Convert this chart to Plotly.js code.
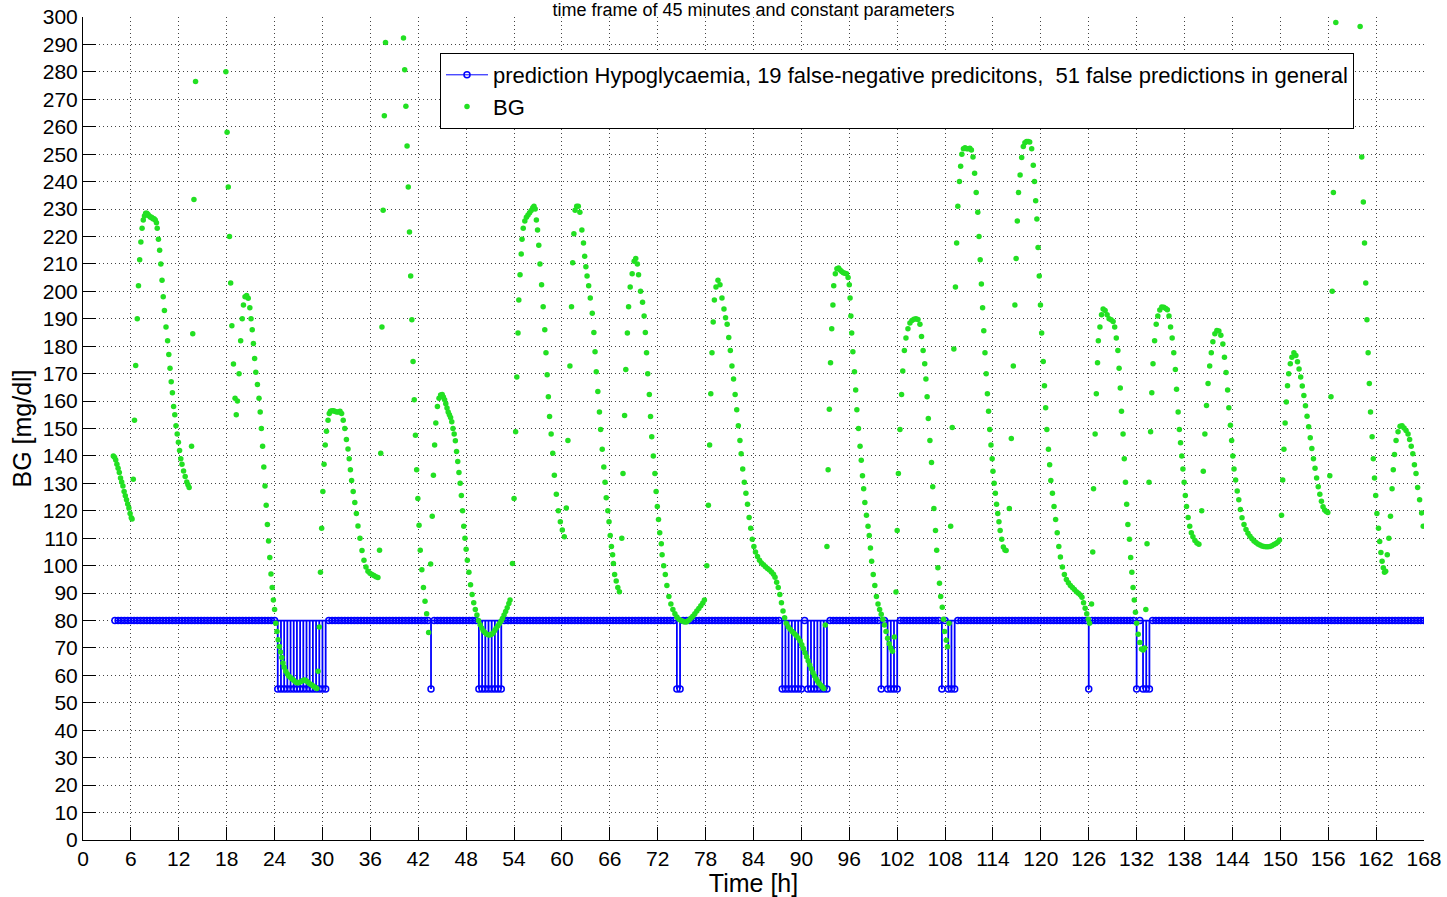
<!DOCTYPE html>
<html>
<head>
<meta charset="utf-8">
<script src="https://cdn.plot.ly/plotly-3.0.1.min.js"></script>
<style>html,body{margin:0;padding:0;background:#fff;}#chart{width:1447px;height:897px;}</style>
</head>
<body>
<div id="chart"></div>
<script>
// ---- prediction (stem plot, baseline 80, hypo value 55) ----
const predStartHour = 4;
const predStepHours = 0.4;
const predNormal = 80;
const predHypo = 55;
// run lengths of samples, alternating: normal, hypo, normal, hypo, ...
const predRuns = [51,16,32,1,14,8,54,2,31,7,1,7,16,1,1,4,13,1,1,3,41,1,14,1,1,3,86];

// ---- BG readings [hour, mg/dl] ----
const bgDay1 = [[3.8,140],[3.95,139.5],[4.1,138.5],[4.25,137],[4.4,135.5],[4.55,134],[4.7,132],[4.85,130.5],[5.0,129],[5.15,127],[5.3,125.5],[5.45,124],[5.6,122.5],[5.75,121],[5.9,119],[6.05,117.5],[6.15,117],
[6.3,131.5],[6.45,153],[6.6,173],[6.8,190],[6.95,202],[7.1,211.5],[7.25,218],[7.4,223],[7.55,226],[7.7,227.5],[7.85,228.5],[8.0,228.5],[8.15,228],[8.3,227.5],[8.45,227],[8.6,227],[8.75,226.5],[8.9,226.5],[9.05,226],[9.2,225],[9.3,223],[9.45,219],[9.6,215],[9.75,210],[9.9,204],[10.05,198],[10.2,193],[10.4,187],[10.6,182],[10.75,177],[10.9,172],[11.05,167],[11.2,163],[11.35,158],[11.5,155],[11.65,151],[11.8,148],[11.95,145],[12.1,142],[12.25,139],[12.4,137],[12.6,134.5],[12.8,132.5],[13.0,130.5],[13.15,129.5],[13.3,128.5],
[13.6,143.5],[13.75,184.5],[13.9,233.5],[14.1,276.5],
[17.9,280],[18.05,258],[18.2,238],[18.35,220],[18.5,203],[18.65,187.5],[18.85,173.5],[19.05,161],[19.2,155],[19.35,160],[19.55,170],[19.75,182],[19.95,190],[20.1,195],[20.3,198],[20.5,198.5],[20.7,197.5],[20.9,194],[21.05,190],[21.2,186],[21.35,181],[21.5,175.5],[21.65,170.5],[21.85,166],[22.05,161],[22.2,156],[22.35,150],[22.5,143.5],[22.65,136],[22.8,129],[22.95,122],[23.1,115],[23.25,109],[23.4,103],[23.55,97],[23.7,92],[23.85,87.5],[24.0,84]];
const bgDay2 = [[24.15,79],[24.3,76],[24.45,73],[24.6,70.5],[24.75,68.5],[24.9,66.5],[25.05,64.5],[25.2,63],[25.4,61.5],[25.6,60.5],[25.8,59.7],[26.0,59.2],[26.2,58.7],[26.4,58.2],[26.6,57.7],[26.8,57.3],[27.0,57.3],[27.2,57.6],[27.4,57.9],[27.6,58.2],[27.8,58.3],[28.0,58],[28.2,57.5],[28.4,57],[28.6,56.6],[28.8,56.2],[29.0,55.8],[29.15,55.5],[29.3,55.2],
[29.45,61.5],[29.6,77.6],[29.75,97.6],[29.9,113.6],[30.05,127],[30.2,137],[30.35,144],[30.5,149],[30.7,153],[30.85,155.5],[31.0,156.3],[31.2,156.5],[31.4,156.5],[31.6,156.2],[31.8,156],[32.0,156],[32.2,156.3],[32.4,155.5],[32.6,153],[32.8,150],[33.0,146],[33.2,142.5],[33.35,139],[33.5,135],[33.65,131],[33.85,127],[34.05,123],[34.25,119],[34.45,114.5],[34.7,110],[34.95,105.5],[35.2,102],[35.45,99.5],[35.7,98],[35.95,97.2],[36.2,96.8],[36.45,96.4],[36.7,96],[36.95,95.7],
[37.15,105.6],[37.3,141],[37.45,187],[37.6,229.6],[37.75,264],[37.9,290.7],
[40.15,292.3],[40.3,280.8],[40.45,267.5],[40.6,253],[40.75,238],[40.9,221.6],[41.05,205.6],[41.2,189.6],[41.35,174.4],[41.5,160.5],[41.65,147.5],[41.8,135],[41.95,124.5],[42.1,114.7],[42.25,105.6],[42.45,98.5],[42.65,92],[42.85,87],[43.05,82.5],[43.3,75.6],
[43.55,100.6],[43.75,118],[43.9,133],[44.05,144],[44.2,152],[44.4,158],[44.6,161],[44.8,162.2],[45.0,162.4],[45.15,161.5],[45.3,160.5],[45.45,159],[45.6,157.5],[45.75,156],[45.9,155],[46.05,154],[46.2,152.5],[46.35,150],[46.5,148],[46.65,145.5],[46.8,141.6],[46.95,138],[47.1,134],[47.25,130],[47.4,125.6],[47.55,120],[47.7,114.4],[47.85,110],[48.0,106]];
const bgDay3 = [[48.15,102],[48.35,97.6],[48.55,93],[48.75,89.5],[48.95,86.5],[49.15,84],[49.35,82],[49.55,80],[49.75,78.5],[49.95,77.3],[50.15,76.3],[50.35,75.6],[50.55,75.1],[50.75,74.8],[50.95,74.7],[51.15,74.9],[51.35,75.4],[51.55,76.3],[51.75,77.2],[51.95,78],[52.15,78.8],[52.35,79.7],[52.55,80.7],[52.75,82],[52.95,83.3],[53.15,84.7],[53.35,86.2],[53.5,87.5],
[53.8,100.8],[54.0,124.5],[54.2,148.8],[54.35,168.8],[54.5,184.8],[54.6,196.8],[54.75,206],[54.9,213.6],[55.0,219],[55.15,223],[55.35,225.6],[55.55,227],[55.75,227.8],[55.95,228.6],[56.15,229.5],[56.35,230.5],[56.5,231],[56.65,230],[56.8,226],[56.95,222.4],[57.1,216.8],[57.25,210],[57.45,202.4],[57.65,194.4],[57.85,186],[58.0,177.6],[58.15,169.6],[58.3,161.6],[58.45,154.4],[58.65,148],[58.85,141],[59.05,133],[59.3,126],[59.55,120],[59.8,116],[60.05,113],[60.3,110.5],
[60.55,121],[60.75,145.6],[61.0,172.8],[61.2,194.4],[61.35,210.4],[61.5,221],[61.65,229.6],[61.85,231],[62.05,231],[62.25,228.8],[62.5,222.4],[62.7,217.6],[62.85,212.8],[63.0,209],[63.15,205.6],[63.35,202],[63.55,197.6],[63.8,192],[64.0,185],[64.15,178],[64.3,170.7],[64.5,163.5],[64.7,156],[64.85,149.6],[65.05,142.4],[65.25,136],[65.4,130.4],[65.55,124.8],[65.75,120],[65.9,116],[66.05,111],[66.2,107],[66.35,104],[66.45,100.8],[66.6,96.8],[66.8,94.4],[67.0,92],[67.2,90.5],
[67.5,110],[67.65,133.6],[67.85,154.7],[68.0,171.5],[68.2,184.8],[68.35,194.4],[68.55,201.6],[68.8,206.4],[69.05,211],[69.25,212],[69.45,210],[69.6,206],[69.85,200],[70.1,196],[70.3,191],[70.45,185],[70.6,177.6],[70.75,170],[70.95,162.4],[71.1,154.4],[71.25,147],[71.45,140],[71.65,133.6],[71.8,127],[71.95,121.6]];
const bgDay4 = [[72.1,116.8],[72.25,112],[72.45,108],[72.55,104],[72.75,100],[72.95,96.8],[73.15,92.8],[73.4,88.8],[73.65,86],[73.9,84],[74.15,82.5],[74.4,81.3],[74.65,80.5],[74.9,80],[75.15,79.7],[75.4,79.5],[75.65,79.6],[75.9,80.1],[76.15,80.8],[76.4,81.6],[76.65,82.5],[76.9,83.5],[77.15,84.4],[77.4,85.4],[77.65,86.4],[77.85,87.5],
[78.15,100],[78.35,122],[78.5,144],[78.65,162.7],[78.8,177.6],[78.95,188.8],[79.1,196.8],[79.3,201.6],[79.55,204],[79.8,202.4],[80.05,197.6],[80.3,193.6],[80.5,190.4],[80.7,188],[80.9,183.2],[81.1,178.4],[81.3,172.8],[81.5,168],[81.7,162.4],[81.9,156.8],[82.1,151],[82.3,145.6],[82.45,140.8],[82.65,135.2],[82.85,130.4],[83.05,126.4],[83.25,122.4],[83.45,117.6],[83.65,113.6],[83.85,109.6],[84.05,107],[84.25,105],[84.5,103.3],[84.75,102],[85.0,101],[85.25,100.3],[85.5,99.6],[85.75,99],[86.0,98.4],[86.25,97.7],[86.5,96.9],[86.7,95.8],[86.9,94],[87.1,92],[87.3,89.5],[87.5,86.5],[87.7,83.5],[87.9,81],[88.1,79],[88.35,77.7],[88.6,76.8],[88.85,76],[89.1,75.3],[89.35,74.5],[89.6,73.6],[89.85,72.5],[90.05,71.2],[90.25,69.8],[90.45,68.3],[90.65,66.8],[90.85,65.3],[91.05,63.8],[91.25,62.4],[91.45,61],[91.65,59.8],[91.85,58.7],[92.05,57.8],[92.25,57],[92.45,56.3],[92.65,55.7],[92.8,55.2],
[93.0,78.4],[93.2,107],[93.35,135],[93.5,157],[93.65,174],[93.8,186.4],[93.95,195],[94.05,202],[94.25,206.4],[94.45,208.2],[94.65,208.5],[94.85,207.8],[95.05,207.2],[95.25,206.8],[95.45,206.6],[95.65,206.4],[95.85,205],[96.0,202.4]];
const bgDay5 = [[96.1,197.6],[96.2,191],[96.3,184.8],[96.45,178],[96.65,170.7],[96.8,164],[96.95,156.8],[97.15,150],[97.35,143.5],[97.5,138.4],[97.65,132.8],[97.8,128],[97.95,123],[98.15,118.4],[98.35,114.4],[98.5,111],[98.65,106.4],[98.8,101.6],[99.0,96.8],[99.2,92.8],[99.4,88.8],[99.6,86],[99.8,84],[100.0,82.3],[100.2,80.5],[100.4,78.4],[100.6,76],[100.8,73.5],[101.0,71.5],[101.2,70],[101.4,68.8],
[101.65,74],[101.85,90.4],[102.0,112.8],[102.15,133.6],[102.35,149.6],[102.55,162.4],[102.7,171],[102.9,178.4],[103.1,183],[103.35,186.4],[103.6,188.5],[103.85,189.4],[104.1,189.8],[104.35,190],[104.6,189.7],[104.85,188],[105.05,183.5],[105.25,178.4],[105.45,173.6],[105.6,168],[105.75,161.6],[105.9,153.6],[106.1,145.6],[106.3,137.6],[106.45,128.8],[106.6,120.8],[106.8,112.8],[106.95,105.6],[107.1,99.2],[107.3,93.6],[107.45,88.8],[107.65,84.8],[107.8,80.5],[107.95,76],[108.15,72.8],[108.3,70.4],
[108.5,79],[108.7,114.4],[108.9,150.4],[109.1,179],[109.3,201.6],[109.45,217.6],[109.6,231],[109.8,240],[109.95,245.6],[110.1,250],[110.3,252],[110.5,252.3],[110.7,252],[110.9,252],[111.1,252.2],[111.3,251.5],[111.5,249],[111.7,243],[111.9,236],[112.1,228.8],[112.25,220],[112.4,211.5],[112.55,202.7],[112.7,194],[112.85,185.6],[113.0,177.6],[113.15,170],[113.3,162.7],[113.45,156.3],[113.6,149.6],[113.75,144],[113.9,139],[114.0,134.4],[114.15,130],[114.3,126.4],[114.45,122.4],[114.6,119],[114.75,116],[114.9,112.8],[115.1,109.6],[115.3,106.8],[115.5,105.7],[115.65,105.5],
[116.05,120.8],[116.3,146.4],[116.55,172.8],[116.75,195],[116.9,212],[117.05,225.6],[117.2,236],[117.4,242.4],[117.6,248.8],[117.8,252.8],[118.0,254.2],[118.2,254.6],[118.4,254.6],[118.6,254.4],[118.85,252],[119.05,246],[119.2,240],[119.35,233],[119.5,226.4],[119.65,216],[119.8,205.6],[119.95,195]];
const bgDay6 = [[120.1,184.8],[120.3,174.4],[120.45,165.6],[120.6,157.6],[120.75,149.6],[120.95,142.4],[121.1,136.8],[121.25,131],[121.45,126.4],[121.65,121.6],[121.85,116.8],[122.05,112],[122.25,107],[122.45,103.2],[122.7,99.5],[122.95,96.8],[123.2,95],[123.45,93.8],[123.7,92.8],[123.95,92],[124.2,91.3],[124.45,90.5],[124.7,89.9],[124.95,89.3],[125.15,88.5],[125.35,86.5],[125.55,84.5],[125.75,82.5],[125.95,80.5],[126.1,79],
[126.35,86],[126.5,105],[126.6,128],[126.8,148],[126.95,162.7],[127.1,174],[127.2,182],[127.4,187],[127.6,191.5],[127.8,193.6],[128.05,193],[128.3,191.5],[128.55,190],[128.8,189.6],[129.05,189],[129.25,187],[129.45,183],[129.65,178.4],[129.8,172],[129.95,164.8],[130.1,156.3],[130.3,148],[130.45,139],[130.6,130.4],[130.75,122.4],[130.9,115],[131.1,109.6],[131.25,103],[131.4,97.6],[131.55,92],[131.7,87.5],[131.85,83],[132.0,79],[132.2,75],[132.4,72],[132.6,69.6],[132.8,69.3],[133.0,70],
[133.15,84],[133.3,108],[133.55,130.4],[133.75,148.8],[133.9,163],[134.05,173.6],[134.25,182],[134.45,188],[134.65,191],[134.9,193.2],[135.15,194.3],[135.4,194.2],[135.65,193.7],[135.85,193.3],[136.05,191],[136.25,187],[136.45,183],[136.65,177.6],[136.85,171.5],[137.0,164.3],[137.2,156],[137.35,149.6],[137.5,144.8],[137.65,140],[137.8,135.2],[137.95,130.4],[138.1,125.6],[138.25,121.6],[138.45,117.6],[138.65,114.4],[138.85,112],[139.05,110.5],[139.3,109.2],[139.55,108.3],[139.8,107.8],
[140.15,120],[140.35,134.4],[140.55,148],[140.75,158.4],[140.95,166.4],[141.15,172.8],[141.35,177.6],[141.55,181.6],[141.8,184.5],[142.05,185.7],[142.3,185.5],[142.55,184],[142.8,180.8],[143.0,176],[143.2,170.4],[143.4,164],[143.55,157.6],[143.75,151.2],[143.9,145.6]];
const bgDay7 = [[144.05,140],[144.2,135.2],[144.4,131.2],[144.6,127.2],[144.8,124],[145.0,120.5],[145.2,117.5],[145.45,115],[145.7,113.2],[145.95,111.8],[146.2,110.7],[146.45,109.8],[146.7,109],[146.95,108.4],[147.2,107.9],[147.45,107.5],[147.7,107.2],[147.95,107],[148.2,106.9],[148.45,106.9],[148.7,107],[148.95,107.3],[149.2,107.7],[149.45,108.1],[149.7,108.6],[149.9,109.4],
[150.15,118.4],[150.3,131.2],[150.45,142.4],[150.6,152],[150.75,159.7],[150.9,165.6],[151.05,170],[151.25,173.6],[151.45,176],[151.7,177.6],[151.95,176.6],[152.15,174.3],[152.35,171.7],[152.55,168.8],[152.75,165.5],[152.95,162],[153.15,158.3],[153.35,154.5],[153.55,150.6],[153.75,146.6],[153.95,142.7],[154.15,139],[154.35,135.5],[154.55,132],[154.75,128.8],[154.95,126],[155.15,123.5],[155.35,121.5],[155.55,120.3],[155.75,119.7],[155.95,119.4],
[156.2,132.8],[156.35,161.6],[156.5,200],[156.65,236],[156.8,262],[156.95,298],
[160.0,296.5],[160.2,249],[160.4,232.6],[160.55,217.6],[160.7,203],[160.85,189.6],[161.0,177.6],[161.15,166.4],[161.3,156],[161.5,147],[161.65,139],[161.8,132],[161.95,125.6],[162.1,119],[162.3,113.6],[162.45,108.8],[162.6,104.8],[162.75,101.6],[162.9,99.2],[163.05,97.6],[163.2,98],
[163.4,104],[163.6,110],[163.8,118],[164.0,128],[164.15,135],[164.3,140.5],[164.5,145.6],[164.75,148.8],[165.0,150.8],[165.25,151],[165.5,150.2],[165.75,149.3],[166.0,148],[166.2,146],[166.4,143.5],[166.6,140.8],[166.8,136.8],[167.0,133.6],[167.2,128.5],[167.45,124],[167.7,119.2],[167.9,114.4]];

const xTickStep = 6;
const yTickStep = 10;
const titleText = 'time frame of 45 minutes and constant parameters';
const predName = 'prediction Hypoglycaemia, 19 false-negative predicitons,\u00a0 51 false predictions in general';
const bgName = 'BG';

// ---- build series ----
const bgHours = [], bgValues = [];
[bgDay1, bgDay2, bgDay3, bgDay4, bgDay5, bgDay6, bgDay7].forEach(day =>
  day.forEach(p => { bgHours.push(p[0]); bgValues.push(p[1]); }));

const predHours = [], predValues = [];
let k = 0;
predRuns.forEach((n, i) => {
  for (let j = 0; j < n; j++) {
    predHours.push(+(predStartHour + k * predStepHours).toFixed(4));
    predValues.push(i % 2 === 0 ? predNormal : predHypo);
    k++;
  }
});

const stemX = [predHours[0], predHours[predHours.length - 1], null];
const stemY = [predNormal, predNormal, null];
predHours.forEach((t, i) => {
  if (predValues[i] !== predNormal) { stemX.push(t, t, null); stemY.push(predNormal, predValues[i], null); }
});
const circX = [], circY = [];
predHours.forEach((t, i) => { circX.push(t, null); circY.push(predValues[i], null); });

const blue = '#0000ff';
const green = '#22e022';
const fontFam = 'Liberation Sans, Arial, Helvetica, sans-serif';

const traces = [
  { x: stemX, y: stemY, mode: 'lines', line: { color: blue, width: 1.8 }, showlegend: false, hoverinfo: 'skip' },
  { x: circX, y: circY, mode: 'lines+markers', name: predName,
    line: { color: blue, width: 1 },
    marker: { symbol: 'circle-open', size: 6, color: blue, line: { width: 1.5, color: blue } } },
  { x: bgHours, y: bgValues, mode: 'markers', name: bgName,
    marker: { symbol: 'circle', size: 5.5, color: green } }
];

const axisCommon = {
  ticks: 'inside', ticklen: 13, tickwidth: 1, tickcolor: '#000',
  showline: true, linecolor: '#000', linewidth: 1, mirror: false,
  showgrid: true, gridcolor: '#444', gridwidth: 1, griddash: '1px,3px',
  zeroline: false, tickfont: { family: fontFam, size: 21, color: '#000' },
  automargin: false
};

const layout = {
  width: 1447, height: 897,
  margin: { l: 83, r: 23, t: 17, b: 57 },
  paper_bgcolor: '#fff', plot_bgcolor: '#fff',
  font: { family: fontFam, color: '#000' },
  title: { text: titleText, font: { family: fontFam, size: 18, color: '#000' },
           x: 0.5, xref: 'paper', y: 1, yref: 'container', yanchor: 'top', pad: { t: 3 } },
  xaxis: Object.assign({}, axisCommon, {
    range: [0, 168], tickmode: 'linear', tick0: 0, dtick: xTickStep,
    title: { text: 'Time [h]', font: { family: fontFam, size: 25, color: '#000' }, standoff: 2 }
  }),
  yaxis: Object.assign({}, axisCommon, {
    range: [0, 300], tickmode: 'linear', tick0: 0, dtick: yTickStep,
    title: { text: 'BG [mg/dl]', font: { family: fontFam, size: 25, color: '#000' }, standoff: 4 }
  }),
  legend: {
    x: (440 - 83) / 1341, y: (840 - 53) / 823, xanchor: 'left', yanchor: 'top',
    bgcolor: '#fff', bordercolor: '#000', borderwidth: 1, itemwidth: 42,
    font: { family: fontFam, size: 22, color: '#000' }, tracegroupgap: 0
  },
  showlegend: true
};

Plotly.newPlot('chart', traces, layout, { displayModeBar: false, staticPlot: true });
</script>
</body>
</html>
